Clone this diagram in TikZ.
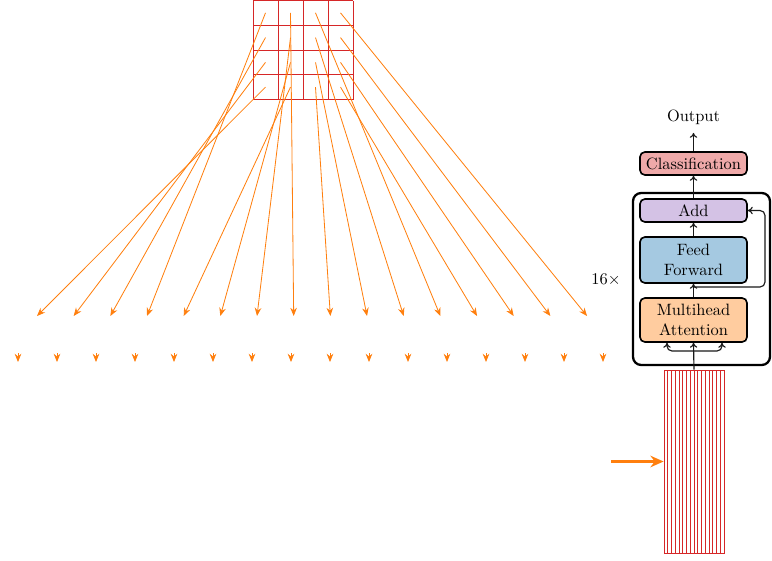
\documentclass[tikz,border=0pt]{standalone}
\usetikzlibrary{arrows.meta,calc}
\definecolor{taborange}{RGB}{255,127,14}
\definecolor{tabred}{RGB}{214,39,40}
\definecolor{tabpurple}{RGB}{148,103,189}
\definecolor{tabblue}{RGB}{31,119,180}
\def\px{0.609pt}
\tikzset{
  blk/.style={draw, line width=1pt, rounded corners=3pt, minimum width=107*\px, align=center, inner sep=1pt},
  flow/.style={-{To[length=3pt,width=4.5pt]}, line width=0.7pt, black!90},
  tok/.style={taborange, line width=0.5pt, -{Stealth[length=5pt,width=4pt]}},
  cellline/.style={tabred, line width=0.5pt},
}
\begin{document}
\begin{tikzpicture}[x=0.609pt,y=-0.609pt]
\useasboundingbox (0,0) rectangle (772,561);

% patch grid
\foreach \i in {0,...,4}{
  \draw[cellline] ({253+25*\i},0.5) -- ({253+25*\i},99.5);
  \draw[cellline] (253,{0.5+24.75*\i}) -- (353,{0.5+24.75*\i});
}
% cell centres and targets
\foreach \c in {0,...,3}{
  \foreach \r in {0,...,3}{
    \pgfmathtruncatemacro{\k}{4*\c+\r}
    \coordinate (p\k) at ({265.5+25*\c},{87.1-24.75*\r});
    \coordinate (t\k) at ({37+36.67*\k},316);
    \draw[tok] (p\k) -- (t\k);
  }
}
% short arrows
\foreach \k in {0,...,15}{
  \coordinate (sa\k) at ({18+39*\k},353);
  \coordinate (sb\k) at ({18+39*\k},362);
  \draw[tok] (sa\k) -- (sb\k);
}

% sequence strips
\node[draw=tabred, line width=0.5pt, minimum width=60*\px, minimum height=183*\px, inner sep=0pt] (seq) at (694,461.5) {};
\foreach \i in {1,...,15}{
  \draw[cellline] ({664+3.75*\i},370) -- ({664+3.75*\i},553);
}
\coordinate (inp) at (611,461.5);
\draw[taborange, line width=1.4pt, -{Stealth[length=8pt,width=7pt]}] (inp) -- (seq.west);

% transformer block
\node[draw, line width=1.4pt, rounded corners=5pt, minimum width=137*\px, minimum height=172*\px] (block) at (701.5,279) {};
\node (rep) at (606,280) {16$\times$};
\node[blk, fill=taborange!40, minimum height=44*\px] (mha) at (693.5,320) {Multihead\\Attention};
\node[blk, fill=tabblue!40, minimum height=46*\px] (ff) at (693.5,260) {Feed\\Forward};
\node[blk, fill=tabpurple!40, minimum height=23*\px] (add) at (693.5,210.5) {Add};
\node[blk, fill=tabred!40, minimum height=23*\px] (cls) at (693.5,163.5) {Classification};
\node[inner sep=5pt] (out) at (693.5,117) {Output};

\coordinate (split) at (694,351);
\coordinate (res) at (694,287);
\draw[flow] (seq.north) -- (mha.south);
\draw[flow, rounded corners=3pt] (split) -| ($(mha.south)+(-26.5,0)$);
\draw[flow, rounded corners=3pt] (split) -| ($(mha.south)+(28.5,0)$);
\draw[flow] (mha.north) -- (ff.south);
\draw[flow, rounded corners=3pt] (res) -- (765,287) |- (add.east);
\draw[flow] (ff.north) -- (add.south);
\draw[flow] (add.north) -- (cls.south);
\draw[flow] (cls.north) -- (out.south);
\end{tikzpicture}
\end{document}
